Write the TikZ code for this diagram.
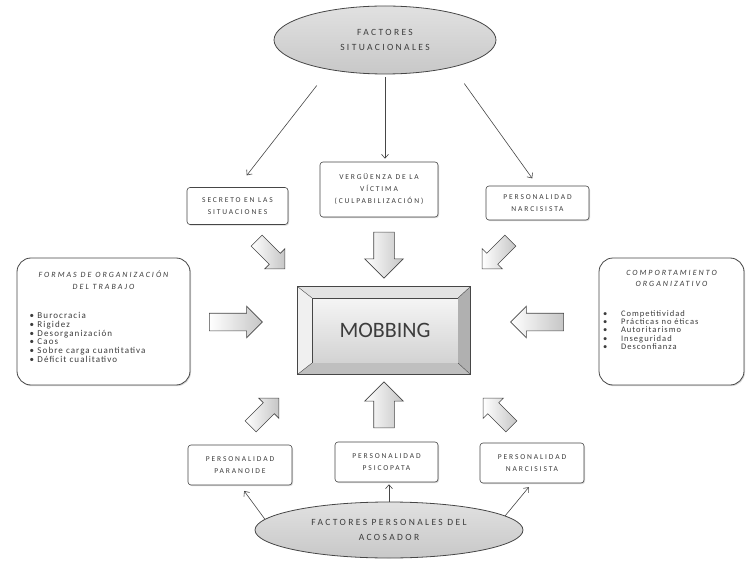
\documentclass[tikz,border=0pt]{standalone}
\usepackage{fontspec}
\setmainfont{Carlito}
\newfontfamily\diagfont[LetterSpace=25]{Carlito}
\newfontfamily\listfont[LetterSpace=12]{Carlito}
\usepackage{tikz}
\usetikzlibrary{shapes.geometric, shapes.arrows, arrows.meta, positioning, calc, shadows}
\definecolor{edgecolor}{RGB}{70, 70, 70}
\definecolor{textcolor}{RGB}{60, 60, 60}
\definecolor{ovalcolor}{RGB}{200, 200, 200}

\begin{document}
\begin{tikzpicture}[
        x=1pt, y=-1pt,
        factor/.style={rectangle, rounded corners=3pt, draw=edgecolor, fill=white, semithick, text=textcolor, font=\diagfont\fontsize{7.5}{12}\selectfont, align=center, inner sep=1pt, drop shadow={shadow xshift=1pt, shadow yshift=-1.2pt, opacity=0.3}},
        listbox/.style={rectangle, rounded corners=14pt, draw=edgecolor, fill=white, thick, text=textcolor, align=center, inner sep=0pt, drop shadow={shadow xshift=1pt, shadow yshift=-1.2pt, opacity=0.3}},
        oval/.style={ellipse, draw=edgecolor, thick, top color=ovalcolor!55, bottom color=ovalcolor, text=textcolor, font=\diagfont\fontsize{9.5}{15}\selectfont, align=center, inner sep=0pt},
        blockarrow/.style={single arrow, draw=edgecolor, semithick, left color=white, right color=gray!45, inner xsep=0pt, single arrow tip angle=90},
        vertarrow/.style={blockarrow, inner ysep=10pt, minimum height=46pt, minimum width=38pt, single arrow head extend=9pt},
        sidearrow/.style={blockarrow, inner ysep=8.5pt, minimum height=53pt, minimum width=31pt, single arrow head extend=7pt},
        diagarrow/.style={blockarrow, inner ysep=7.5pt, minimum height=40pt, minimum width=28pt, single arrow head extend=6.5pt},
        conn/.style={-{Straight Barb[length=4pt, width=7pt]}, semithick, edgecolor}
    ]
        \useasboundingbox (0,0) rectangle (746,561);

        % Situational factors
        \node[oval, minimum width=222pt, minimum height=68pt] (sit) at (385,40) {FACTORES\\SITUACIONALES};
        \node[factor, minimum width=101pt, minimum height=37pt] (secreto) at (237.5,206) {SECRETO EN LAS\\SITUACIONES};
        \node[factor, minimum width=118pt, minimum height=55pt] (verg) at (379,189.5) {VERGÜENZA DE LA\\VÍCTIMA\\(CULPABILIZACIÓN)};
        \node[factor, minimum width=103pt, minimum height=34pt] (narcA) at (537.5,203) {PERSONALIDAD\\NARCISISTA};

        % Mobbing key
        \node[rectangle, minimum width=146pt, minimum height=65pt, top color=gray!8, bottom color=gray!35, draw=edgecolor, thin, font=\fontsize{22}{22}\selectfont, text=textcolor] (mob) at (385,330.5) {MOBBING};
        \coordinate (bevNW) at ($(mob.north west)+(-14,-11)$);
        \coordinate (bevNE) at ($(mob.north east)+(12,-11)$);
        \coordinate (bevSW) at ($(mob.south west)+(-14,11)$);
        \coordinate (bevSE) at ($(mob.south east)+(12,11)$);
        \fill[gray!22] (bevNW) -- (bevNE) -- (mob.north east) -- (mob.north west) -- cycle;
        \fill[gray!12] (bevNW) -- (mob.north west) -- (mob.south west) -- (bevSW) -- cycle;
        \fill[gray!62] (bevNE) -- (bevSE) -- (mob.south east) -- (mob.north east) -- cycle;
        \fill[gray!50] (bevSW) -- (mob.south west) -- (mob.south east) -- (bevSE) -- cycle;
        \draw[edgecolor, thin] (bevNW) -- (mob.north west) (bevNE) -- (mob.north east) (bevSW) -- (mob.south west) (bevSE) -- (mob.south east);
        \draw[edgecolor, thick] (bevNW) rectangle (bevSE);

        % Side boxes
        \node[listbox, minimum width=173pt, minimum height=127pt, font=\diagfont\fontsize{8}{8.6}\selectfont] (formas) at (103.5,321.5) {%
            {\itshape FORMAS DE ORGANIZACIÓN}\\[3.4pt]{\itshape DEL TRABAJO}\\[22pt]
            {\listfont\fontsize{9}{8.6}\selectfont
            \begin{tabular}{@{}p{8pt}@{}p{140pt}@{}}
                \textbullet & Burocracia\\
                \textbullet & Rigidez\\
                \textbullet & Desorganización\\
                \textbullet & Caos\\
                \textbullet & Sobre carga cuantitativa\\
                \textbullet & Déficit cualitativo\\[7pt]
            \end{tabular}}};
        \node[listbox, minimum width=145pt, minimum height=127pt, font=\diagfont\fontsize{8}{7.9}\selectfont] (comport) at (671.5,321.5) {%
            {\itshape COMPORTAMIENTO}\\[3.2pt]{\itshape ORGANIZATIVO}\\[23pt]
            {\listfont\fontsize{8.5}{7.9}\selectfont
            \begin{tabular}{@{}p{18pt}@{}p{119pt}@{}}
                \textbullet & Competitividad\\
                \textbullet & Prácticas no éticas\\
                \textbullet & Autoritarismo\\
                \textbullet & Inseguridad\\
                \textbullet & Desconfianza\\[21pt]
            \end{tabular}}};

        % Block arrows
        \node[diagarrow, rotate=-45] (arrSecreto) at (268,252) {};
        \node[vertarrow, rotate=-90] (arrVerg) at (384,250) {};
        \node[diagarrow, rotate=-135] (arrNarcA) at (499,252) {};
        \node[sidearrow] (arrFormas) at (231.5,322) {};
        \node[sidearrow, rotate=180] (arrComport) at (541.5,322) {};
        \node[diagarrow, rotate=45] (arrParan) at (262,415) {};
        \node[vertarrow, rotate=90] (arrPsico) at (384,410) {};
        \node[diagarrow, rotate=135] (arrNarcB) at (500,415) {};

        % Personal factors
        \node[factor, minimum width=104pt, minimum height=40pt] (paran) at (240,465) {PERSONALIDAD\\PARANOIDE};
        \node[factor, minimum width=103pt, minimum height=40pt] (psico) at (386.5,462) {PERSONALIDAD\\PSICOPATA};
        \node[factor, minimum width=104pt, minimum height=40pt] (narcB) at (532,463) {PERSONALIDAD\\NARCISISTA};
        \node[oval, minimum width=268pt, minimum height=56pt] (pers) at (389,530) {FACTORES PERSONALES DEL\\ACOSADOR};

        % Connectors
        \draw[conn, shorten <=20pt, shorten >=15pt] (sit.208) -- (secreto.north);
        \draw[conn, shorten <=3pt, shorten >=3pt] (sit.south) -- (sit.south |- verg.north);
        \draw[conn, shorten <=20pt, shorten >=9pt] (sit.338) -- (narcA.north);
        \draw[conn, shorten >=7pt] (pers.175) -- (paran.south);
        \draw[conn, shorten >=2pt] (pers.north) -- (pers.north |- psico.south);
        \draw[conn, shorten >=5pt] (pers.7) -- (narcB.south);
    \end{tikzpicture}
\end{document}
